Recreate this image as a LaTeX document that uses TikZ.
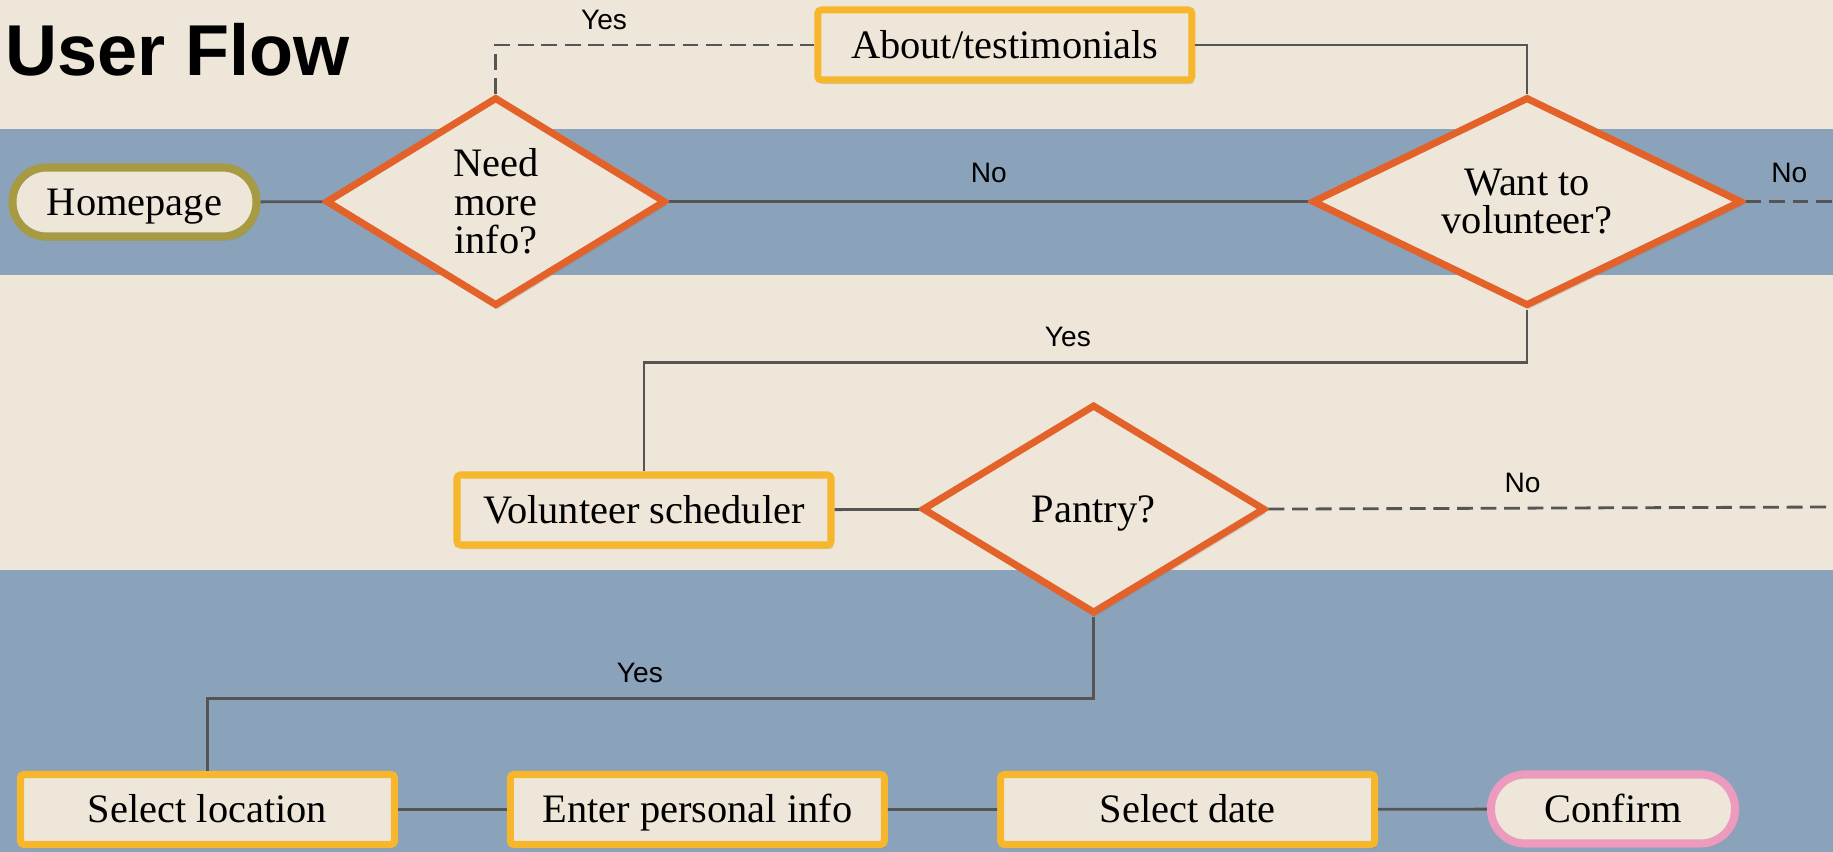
\documentclass[tikz,border=0pt]{standalone}
\usepackage{fontspec}
\setmainfont{Liberation Serif}
\setsansfont{Liberation Sans}
\usetikzlibrary{shapes.geometric,shadows}
\definecolor{Paper}{HTML}{EEE6D9}
\definecolor{Lane}{HTML}{8BA3BA}
\definecolor{Rust}{HTML}{E2622A}
\definecolor{Gold}{HTML}{F6B72D}
\definecolor{Olive}{HTML}{A69A42}
\definecolor{Rose}{HTML}{EC9BBE}
\definecolor{Wire}{HTML}{555555}

\begin{document}
\begin{tikzpicture}[
    font=\fontsize{11.5}{11}\selectfont,
    lifted/.style={drop shadow={opacity=.3,shadow xshift=.6pt,shadow yshift=-1.2pt}},
    decision/.style={diamond,draw=Rust,line width=2pt,fill=Paper,inner sep=0pt,
      shape aspect=2,align=center,minimum height=2.09cm,lifted},
    screen/.style={rectangle,draw=Gold,line width=2pt,fill=Paper,rounded corners=1pt,
      minimum width=3.74cm,minimum height=0.70cm,text height=1.9ex,text depth=.25ex,lifted},
    terminal/.style={rectangle,line width=2.3pt,fill=Paper,rounded corners=0.34cm,
      minimum width=2.44cm,minimum height=0.69cm,text height=1.9ex,text depth=.25ex,lifted},
    wire/.style={draw=Wire,line width=0.8pt},
    maybe/.style={wire,dash pattern=on 4.5pt off 2.2pt},
    answer/.style={font=\sffamily\fontsize{8}{8}\selectfont,inner sep=0pt}
  ]
    % lanes
    \useasboundingbox (0,0) rectangle (18.33,8.52);
    \fill[Paper] (0,0) rectangle (18.33,8.52);
    \fill[Lane] (0,5.77) rectangle (18.33,7.23);
    \fill[Lane] (0,0) rectangle (18.33,2.82);

    \node[anchor=base west,inner sep=0pt,
      font=\sffamily\bfseries\fontsize{20.5}{20}\selectfont] (title) at (0.05,7.76) {User Flow};

    % first pass: homepage and the two questions
    \node[terminal,draw=Olive] (home) at (1.345,6.50) {Homepage};
    \node[decision,minimum width=3.40cm] (info) at (4.957,6.504) {Need\\more\\info?};
    \node[screen] (about) at (10.048,8.07) {About/testimonials};
    \node[decision,minimum width=4.30cm] (volunteer) at (15.27,6.504) {Want to\\volunteer?};
    \coordinate (offA) at (18.33,6.504);

    % volunteering
    \node[screen] (sched) at (6.44,3.42) {Volunteer scheduler};
    \node[decision,minimum width=3.43cm,text height=1.9ex,text depth=.25ex] (pantry)
      at (10.936,3.429) {Pantry?};
    \coordinate (offB) at (18.33,3.45);

    % pantry sign-up
    \node[screen] (loc) at (2.075,0.425) {Select location};
    \node[screen] (details) at (6.973,0.425) {Enter personal info};
    \node[screen] (date) at (11.877,0.425) {Select date};
    \node[terminal,draw=Rose] (confirm) at (16.13,0.43) {Confirm};

    % connectors
    \draw[wire] (home) -- (info);
    \draw[wire] (info) -- node[answer,above=5pt]{No} (volunteer);
    \draw[maybe] (info.north) |- node[answer,pos=.67,above=4pt]{Yes} (about.west);
    \draw[wire] (about.east) -| (volunteer.north);
    \draw[maybe] (volunteer.east) -- node[answer,above=5pt]{No} (offA);
    \draw[wire] (volunteer.south) -- ++(0,-0.53)
      -| node[answer,pos=.26,above=4pt]{Yes} (sched.north);
    \draw[wire] (sched) -- (pantry);
    \draw[maybe] (pantry.east) -- node[answer,pos=.45,above=4pt]{No} (offB);
    \draw[wire] (pantry.south) -- ++(0,-0.81)
      -| node[answer,pos=.256,above=4pt]{Yes} (loc.north);
    \draw[wire] (loc) -- (details) -- (date) -- (confirm);
\end{tikzpicture}
\end{document}
